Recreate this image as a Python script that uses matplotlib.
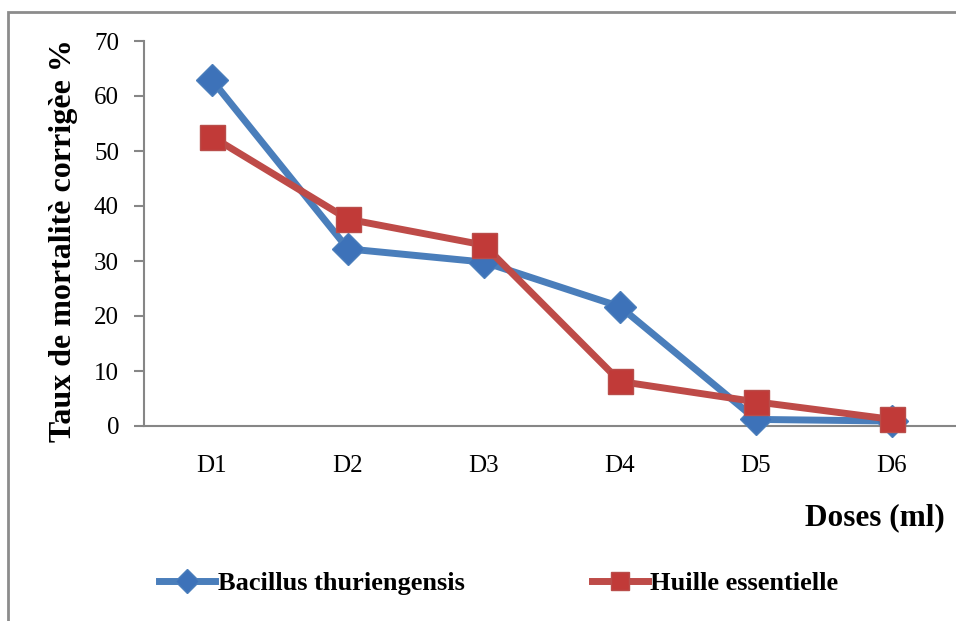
import matplotlib
matplotlib.use("Agg")
import matplotlib.pyplot as plt
from matplotlib.patches import Rectangle

doses = ["D1", "D2", "D3", "D4", "D5", "D6"]
bacillus = [62.9, 32.2, 29.8, 21.7, 1.2, 0.9]
huile = [52.6, 37.6, 32.9, 8.1, 4.4, 1.2]
yticks = [0, 10, 20, 30, 40, 50, 60, 70]

plt.rcParams["font.family"] = ["Liberation Serif", "DejaVu Serif"]

fig = plt.figure(figsize=(9.56, 6.21), dpi=100)
fig.patch.set_facecolor("white")

# chart frame, cut off on the right and bottom like the original
fig.add_artist(Rectangle((8 / 956, -0.05), 1.0, 1 - 12 / 621 + 0.05,
                         transform=fig.transFigure, fill=False,
                         edgecolor="#8c8c8c", lw=2, clip_on=False))

ax = fig.add_axes([144 / 956, 1 - 426 / 621, 816 / 956, 385 / 621])
x = list(range(len(doses)))

ax.plot(x, bacillus, color="#4a7ebb", lw=5, marker="D", ms=16,
        mfc="#3d72b9", mec="#4a7ebb", mew=1, label="Bacillus thuriengensis",
        clip_on=False, zorder=3)
ax.plot(x, huile, color="#be4b48", lw=5, marker="s", ms=18,
        mfc="#c13a38", mec="#b94d4a", mew=1, label="Huille essentielle",
        clip_on=False, zorder=4)

ax.set_xlim(-0.5, 5.5)
ax.set_ylim(0, 70)
ax.set_yticks(yticks)
ax.set_xticks(x)
ax.set_xticklabels(doses)
for s in ("top", "right"):
    ax.spines[s].set_visible(False)
for s in ("left", "bottom"):
    ax.spines[s].set_color("#868686")
    ax.spines[s].set_linewidth(1.5)
ax.tick_params(axis="y", length=7, width=1.5, color="#868686",
               labelsize=18, pad=11)
ax.tick_params(axis="x", length=0, labelsize=18, pad=21)

fig.text(64 / 956, 1 - 241 / 621, "Taux de mortalitè corrigèe %",
         rotation=90, ha="center", va="center", fontsize=23,
         fontweight="bold")
fig.text(945 / 956, 1 - 518 / 621, "Doses (ml)", ha="right", va="center",
         fontsize=22.5, fontweight="bold")

fig.legend(loc="center", bbox_to_anchor=(499 / 956, 1 - 583 / 621), ncol=2,
           frameon=False, prop={"weight": "bold", "size": 19},
           handlelength=2.1, handletextpad=0.1, columnspacing=4.85,
           markerscale=0.75)

fig.savefig("out.png", dpi=100)
